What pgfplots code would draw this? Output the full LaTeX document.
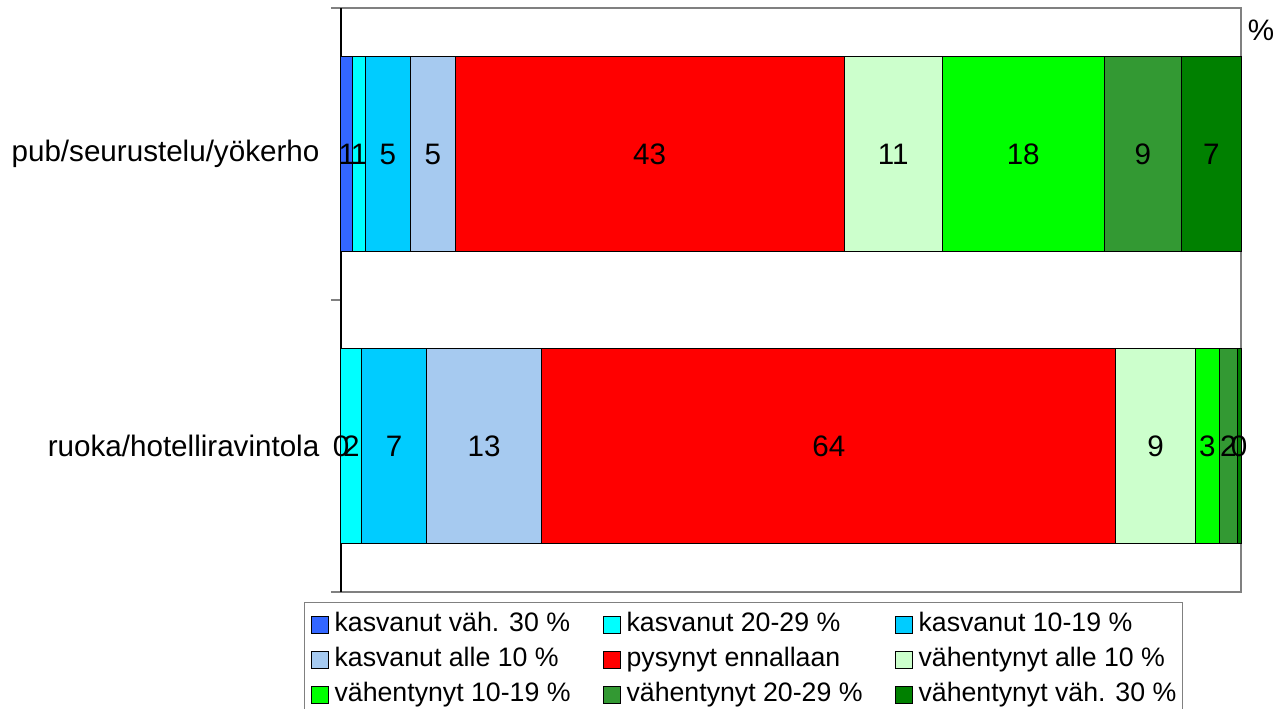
\documentclass[border=0pt]{standalone}
\usepackage{pgfplots}
\pgfplotsset{compat=1.18}
\usepackage{pgfplotstable}
\usepackage{fontspec}
\setmainfont{Liberation Sans}
\definecolor{c1}{HTML}{3366FF}
\definecolor{c2}{HTML}{00FFFF}
\definecolor{c3}{HTML}{00CCFF}
\definecolor{c4}{HTML}{A6CAF0}
\definecolor{c5}{HTML}{FF0000}
\definecolor{c6}{HTML}{CCFFCC}
\definecolor{c7}{HTML}{00FF00}
\definecolor{c8}{HTML}{339933}
\definecolor{c9}{HTML}{008000}
\definecolor{axgray}{HTML}{808080}
\pgfplotstableread{
cat k30 k20 k10 k0 pys v0 v10 v20 v30
0 0 2.3 7.2 12.8 63.8 8.8 2.7 2.0 0.4
1 1.3 1.4 5 5 43.2 10.9 18 8.6 6.6
}\data
\pgfplotsset{
  seg/.style={fill=#1, draw=black, line width=0.5pt},
  common/.style={
    at={(170.5pt,-4pt)}, anchor=north west,
    scale only axis, width=450pt, height=292pt,
    xmin=0, xmax=100, ymin=-0.5, ymax=1.5,
    clip=false,
  },
}
\newcommand{\seg}[2]{%
  \addplot[seg=#1] table[x=#2, y=cat] {\data};
}
% label at the middle of each segment: sum of the previous segments plus half of this one
\newcommand{\lab}[2]{%
  \addplot[draw=none, mark=none,
    point meta=explicit symbolic,
    nodes near coords={\pgfmathprintnumber[fixed,precision=0,assume math mode=true]{\pgfplotspointmeta}},
    every node near coord/.append style={anchor=center, inner sep=0pt, font=\fontsize{14.8}{17}\selectfont, text=black},
  ] table[x expr={#1}, y=cat, meta=#2] {\data};
}
\begin{document}
\begin{tikzpicture}
\path[use as bounding box] (0pt,0pt) rectangle (642.5pt,-354pt);
\begin{axis}[
  common,
  xbar stacked, bar width=0.666,
  xtick=\empty,
  ytick={0,1},
  yticklabels={ruoka/hotelliravintola, pub/seurustelu/yökerho},
  major tick length=0pt,
  tick align=outside,
  ytick pos=left,
  extra y ticks={-0.5,0.5,1.5},
  extra y tick labels={},
  extra y tick style={major tick length=5pt, tick style={draw=axgray, line width=0.6pt}},
  yticklabel style={font=\fontsize{14.8}{17}\selectfont, xshift=-7.3pt},
  axis line style={draw=axgray, line width=0.6pt},
  legend columns=3,
  legend cell align=left,
  legend style={
    at={(-0.0411,-0.0171)}, anchor=north west,
    draw=axgray, line width=0.6pt, fill=white,
    font=\fontsize{13.35}{16}\selectfont,
    inner xsep=3pt, inner ysep=4.75pt,
    nodes={inner sep=0pt, text height=9.7pt, text depth=2.8pt},
    row sep=5pt,
    /tikz/every odd column/.append style={column sep=3pt},
    /tikz/every even column/.append style={column sep=16pt},
  },
  legend image code/.code={\draw[#1, draw=black, line width=0.5pt] (0pt,-4.25pt) rectangle (8.5pt,4.25pt);},
]
\seg{c1}{k30}
\seg{c2}{k20}
\seg{c3}{k10}
\seg{c4}{k0}
\seg{c5}{pys}
\seg{c6}{v0}
\seg{c7}{v10}
\seg{c8}{v20}
\seg{c9}{v30}
\legend{kasvanut väh. 30 \%, kasvanut 20-29 \%, kasvanut 10-19 \%,
        kasvanut alle 10 \%, pysynyt ennallaan, vähentynyt alle 10 \%,
        vähentynyt 10-19 \%, vähentynyt 20-29 \%, vähentynyt väh. 30 \%}
\draw[black, line width=0.65pt] (rel axis cs:0,0) -- (rel axis cs:0,1);
\end{axis}
\begin{axis}[common, hide axis]
\lab{\thisrow{k30}/2}{k30}
\lab{\thisrow{k30}+\thisrow{k20}/2}{k20}
\lab{\thisrow{k30}+\thisrow{k20}+\thisrow{k10}/2}{k10}
\lab{\thisrow{k30}+\thisrow{k20}+\thisrow{k10}+\thisrow{k0}/2}{k0}
\lab{\thisrow{k30}+\thisrow{k20}+\thisrow{k10}+\thisrow{k0}+\thisrow{pys}/2}{pys}
\lab{\thisrow{k30}+\thisrow{k20}+\thisrow{k10}+\thisrow{k0}+\thisrow{pys}+\thisrow{v0}/2}{v0}
\lab{\thisrow{k30}+\thisrow{k20}+\thisrow{k10}+\thisrow{k0}+\thisrow{pys}+\thisrow{v0}+\thisrow{v10}/2}{v10}
\lab{\thisrow{k30}+\thisrow{k20}+\thisrow{k10}+\thisrow{k0}+\thisrow{pys}+\thisrow{v0}+\thisrow{v10}+\thisrow{v20}/2}{v20}
\lab{\thisrow{k30}+\thisrow{k20}+\thisrow{k10}+\thisrow{k0}+\thisrow{pys}+\thisrow{v0}+\thisrow{v10}+\thisrow{v20}+\thisrow{v30}/2}{v30}
\end{axis}
\node[font=\fontsize{14.8}{17}\selectfont] at (630.5pt,-15pt) {\%};
\end{tikzpicture}
\end{document}
